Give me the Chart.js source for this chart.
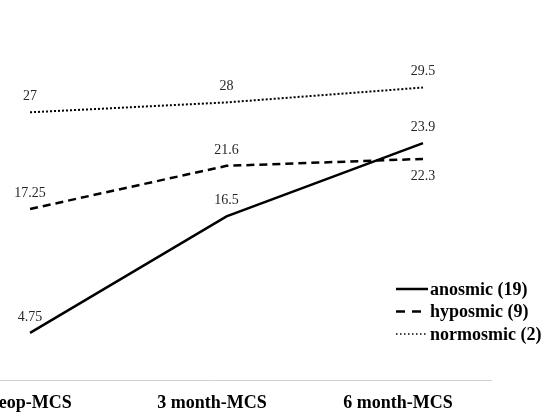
<!DOCTYPE html>
<html>
<head>
<meta charset="utf-8">
<script src="https://cdn.jsdelivr.net/npm/chart.js@4/dist/chart.umd.min.js"></script>
<style>
  html, body { margin: 0; padding: 0; background: #fff; width: 554px; height: 412px; overflow: hidden; position: relative; }
  #c { position: absolute; left: -67px; top: 0; }
</style>
</head>
<body>
<canvas id="c" width="621" height="426"></canvas>
<script>
const categories = ['Preop-MCS', '3 month-MCS', '6 month-MCS'];
const seriesNames = ['anosmic (19)', 'hyposmic (9)', 'normosmic (2)'];
const anosmic = [4.75, 16.5, 23.9];
const hyposmic = [17.25, 21.6, 22.3];
const normosmic = [27, 28, 29.5];

const SERIF = '"Liberation Serif", "Times New Roman", serif';

function pts(values) { return values.map((v, i) => ({ x: i, y: v })); }

const datasets = [
  { label: seriesNames[0], data: pts(anosmic), borderColor: '#000', borderWidth: 2.5, borderDash: [],
    labelPos: ['above', 'above', 'above'], legendDash: [], legendLen: 32, legendWidth: 2.5 },
  { label: seriesNames[1], data: pts(hyposmic), borderColor: '#000', borderWidth: 2.5, borderDash: [8, 5],
    labelPos: ['above', 'above', 'below'], legendDash: [9, 7], legendLen: 25, legendWidth: 2.5 },
  { label: seriesNames[2], data: pts(normosmic), borderColor: '#000', borderWidth: 2, borderDash: [2, 2],
    labelPos: ['above', 'above', 'above'], legendDash: [1.5, 2.5], legendLen: 30, legendWidth: 1.5 }
].map(d => Object.assign(d, { xAxisID: 'xd', yAxisID: 'y', pointRadius: 0, tension: 0, fill: false }));

const dataLabels = {
  id: 'dataLabels',
  afterDatasetsDraw(chart) {
    const ctx = chart.ctx;
    ctx.save();
    ctx.font = '14px ' + SERIF;
    ctx.fillStyle = '#262626';
    ctx.textAlign = 'center';
    ctx.textBaseline = 'middle';
    chart.data.datasets.forEach((ds, di) => {
      const meta = chart.getDatasetMeta(di);
      meta.data.forEach((el, i) => {
        const below = ds.labelPos[i] === 'below';
        ctx.fillText(String(ds.data[i].y), el.x, el.y + (below ? 17 : -16));
      });
    });
    ctx.restore();
  }
};

const innerLegend = {
  id: 'innerLegend',
  afterDraw(chart) {
    const ctx = chart.ctx;
    const x0 = 463, textX = 497, y0 = 289, gap = 22.5;
    ctx.save();
    ctx.font = 'bold 18px ' + SERIF;
    ctx.fillStyle = '#000';
    ctx.textAlign = 'left';
    ctx.textBaseline = 'middle';
    chart.data.datasets.forEach((ds, i) => {
      const y = y0 + i * gap;
      ctx.beginPath();
      ctx.setLineDash(ds.legendDash);
      ctx.lineWidth = ds.legendWidth;
      ctx.strokeStyle = ds.borderColor;
      ctx.moveTo(x0, y);
      ctx.lineTo(x0 + ds.legendLen, y);
      ctx.stroke();
      ctx.setLineDash([]);
      ctx.fillText(ds.label, textX, y + 1);
    });
    ctx.restore();
  }
};

new Chart(document.getElementById('c'), {
  type: 'line',
  data: { labels: categories, datasets: datasets },
  options: {
    responsive: false,
    animation: false,
    devicePixelRatio: 1,
    layout: { padding: { top: 33, right: 63, left: 0, bottom: 0 } },
    plugins: { legend: { display: false }, tooltip: { enabled: false } },
    scales: {
      x: {
        type: 'category',
        position: 'bottom',
        offset: true,
        grid: { display: false, drawTicks: false },
        border: { display: true, color: '#d0d0d0', width: 1 },
        ticks: { padding: 14, color: '#000', font: { family: SERIF, size: 18, weight: 'bold', lineHeight: 1 } }
      },
      xd: { type: 'linear', display: false, min: -0.494, max: 2.346 },
      y: { display: false, min: 0, max: 35 }
    }
  },
  plugins: [dataLabels, innerLegend]
});
</script>
</body>
</html>
